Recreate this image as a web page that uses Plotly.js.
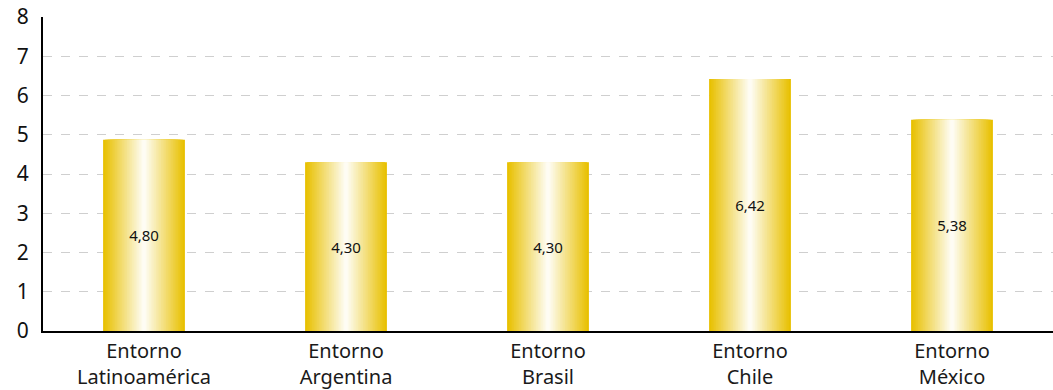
<!DOCTYPE html>
<html>
<head>
<meta charset="utf-8">
<script src="https://cdn.plot.ly/plotly-3.0.1.min.js"></script>
<style>html,body{margin:0;padding:0;background:#fff;}#chart{width:1053px;height:390px;}</style>
</head>
<body>
<div id="chart"></div>
<script>
const categories = ["Entorno<br>Latinoamérica", "Entorno<br>Argentina", "Entorno<br>Brasil", "Entorno<br>Chile", "Entorno<br>México"];
const values = [4.87, 4.30, 4.30, 6.42, 5.38];
const valueLabels = ["4,80", "4,30", "4,30", "6,42", "5,38"];
const yTicks = [0, 1, 2, 3, 4, 5, 6, 7, 8];

const barWidth = 0.405;
const steps = 24;
const gold = [232, 192, 0];
const white = [255, 255, 255];

const traces = [];
for (let i = 0; i < steps; i++) {
  const t = i / steps;
  const c = gold.map((g, k) => Math.round(g * (1 - t) + white[k] * t));
  traces.push({
    type: 'bar',
    x: categories,
    y: values,
    width: categories.map(() => barWidth * (1 - t)),
    marker: {color: 'rgb(' + c.join(',') + ')', line: {width: 0}},
    hoverinfo: 'skip',
    showlegend: false
  });
}
traces.push({
  type: 'bar',
  x: categories,
  y: values,
  width: categories.map(() => barWidth),
  marker: {color: 'rgba(0,0,0,0)', line: {width: 0}},
  text: valueLabels,
  textposition: 'inside',
  insidetextanchor: 'middle',
  constraintext: 'none',
  textfont: {family: 'Noto Sans, sans-serif', size: 15, color: '#111'},
  hoverinfo: 'skip',
  showlegend: false
});

const layout = {
  width: 1053,
  height: 390,
  margin: {l: 43, r: 0, t: 17, b: 59},
  barmode: 'overlay',
  paper_bgcolor: '#fff',
  plot_bgcolor: '#fff',
  font: {family: 'Noto Sans, sans-serif', color: '#111'},
  xaxis: {
    tickvals: categories,
    ticktext: categories,
    showgrid: false,
    showline: true,
    linecolor: '#000',
    linewidth: 2,
    ticks: '',
    ticklabelstandoff: 1,
    tickfont: {size: 20, color: '#1a1a1a'},
    fixedrange: true
  },
  yaxis: {
    range: [0, 8],
    tickvals: yTicks,
    showgrid: true,
    gridcolor: '#cfcfcf',
    griddash: 'dash',
    gridwidth: 1,
    showline: true,
    linecolor: '#000',
    linewidth: 2,
    zeroline: false,
    ticks: '',
    ticklabelstandoff: 8,
    tickfont: {size: 21, color: '#111'},
    fixedrange: true
  }
};

Plotly.newPlot('chart', traces, layout, {displayModeBar: false, staticPlot: true});
</script>
</body>
</html>
